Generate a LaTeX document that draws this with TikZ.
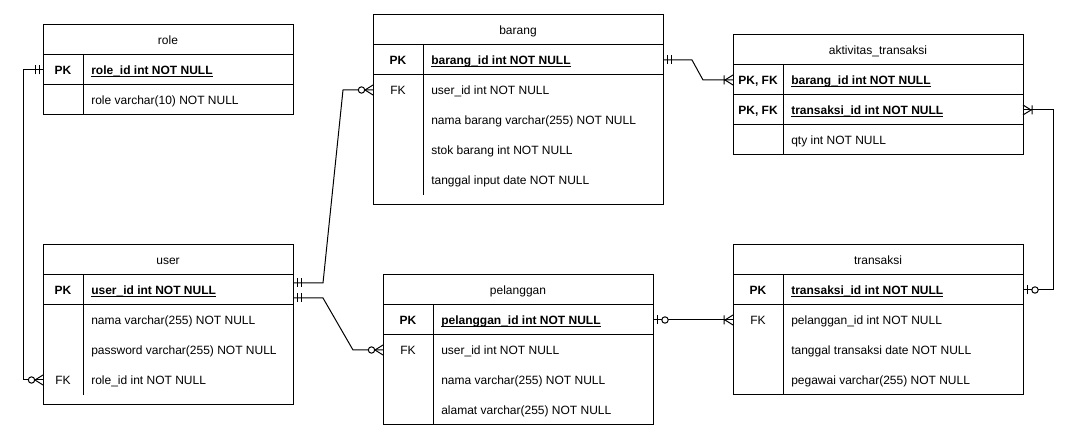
\documentclass[tikz,border=0pt]{standalone}
\usepackage{fontspec}
\setmainfont{Liberation Sans}
\usetikzlibrary{calc,decorations.markings}

\newcommand\ULfld[1]{\setbox0\hbox{#1}\rlap{\rule[-1.7pt]{\wd0}{0.65pt}}\box0}

\newcommand\mkMandOne{\draw[mkline] (4,-4.5) -- (4,4.5) (8,-4.5) -- (8,4.5);}
\newcommand\mkZeroMany{\draw[mkline] (0,-5) -- (8,0) -- (0,5); \draw[mkline,fill=white] (11.5,0) circle[radius=3.2];}
\newcommand\mkOneMany{\draw[mkline] (0,-5) -- (8,0) -- (0,5) (9,-4.5) -- (9,4.5);}
\newcommand\mkZeroOne{\draw[mkline] (4,-4.5) -- (4,4.5); \draw[mkline,fill=white] (12,0) circle[radius=3.2];}

\tikzset{
  tblline/.style={line width=0.75pt, draw=black},
  mkline/.style={line width=0.75pt, draw=black},
  conn/.style={line width=0.75pt, draw=black},
  tblbox/.style={draw=black, line width=0.75pt, rectangle, inner sep=0pt, outer sep=0pt, anchor=north west},
  rowbox/.style={rectangle, inner sep=0pt, outer sep=0pt, minimum height=22.5pt, anchor=north west},
  titletxt/.style={inner sep=0pt, anchor=base},
  keytxt/.style={inner sep=0pt, anchor=base},
  fldtxt/.style={inner sep=0pt, anchor=base west},
  srcMandOne/.style={postaction={decorate,decoration={markings,mark=at position 0 with {\mkMandOne}}}},
  srcOneMany/.style={postaction={decorate,decoration={markings,mark=at position 0 with {\mkOneMany}}}},
  srcZeroOne/.style={postaction={decorate,decoration={markings,mark=at position 0 with {\mkZeroOne}}}},
  dstZeroMany/.style={postaction={decorate,decoration={markings,mark=at position 1 with {\begin{scope}[xscale=-1]\mkZeroMany\end{scope}}}}},
  dstOneMany/.style={postaction={decorate,decoration={markings,mark=at position 1 with {\begin{scope}[xscale=-1]\mkOneMany\end{scope}}}}},
  dstZeroOne/.style={postaction={decorate,decoration={markings,mark=at position 1 with {\begin{scope}[xscale=-1]\mkZeroOne\end{scope}}}}},
}

% #1 name, #2 x, #3 y, #4 width px, #5 height px, #6 title
\newcommand\ERtable[6]{%
  \node[tblbox, minimum width=#4*0.75pt, minimum height=#5*0.75pt] (#1) at (#2,#3) {};
  \node[titletxt] (#1-title) at ($(#1.north)+(0,20)$) {#6};
  \draw[tblline] ($(#1.north west)+(0,30)$) -- ($(#1.north east)+(0,30)$);
}
% #1 table, #2 row name, #3 index, #4 key width px, #5 key, #6 field, #7 width px
\newcommand\ERrow[7]{%
  \node[rowbox, minimum width=#7*0.75pt] (#2) at ($(#1.north west)+(0,30+30*#3)$) {};
  \node[keytxt] (#2-k) at ($(#2.west)+(#4/2,5)$) {#5};
  \node[fldtxt] (#2-f) at ($(#2.west)+(#4+8,5)$) {#6};
}

\begin{document}
\begin{tikzpicture}[x=0.75pt,y=-0.75pt,font=\fontsize{9}{11}\selectfont]
\fill[white] (0,0) rectangle (1078,441);
\useasboundingbox (0,0) rectangle (1078,441);

% role
\ERtable{role}{43}{25}{250}{90}{role}
\ERrow{role}{rolePK}{0}{40}{\textbf{PK}}{\textbf{\ULfld{role\_id int NOT NULL}}}{250}
\draw[tblline] (rolePK.south west) -- (rolePK.south east);
\ERrow{role}{roleName}{1}{40}{}{role varchar(10) NOT NULL}{250}
\draw[tblline] ($(role.north west)+(40,30)$) -- ($(role.north west)+(40,90)$);

% user
\ERtable{user}{43}{245}{250}{160}{user}
\ERrow{user}{userPK}{0}{40}{\textbf{PK}}{\textbf{\ULfld{user\_id int NOT NULL}}}{250}
\draw[tblline] (userPK.south west) -- (userPK.south east);
\ERrow{user}{userNama}{1}{40}{}{nama varchar(255) NOT NULL}{250}
\ERrow{user}{userPass}{2}{40}{}{password varchar(255) NOT NULL}{250}
\ERrow{user}{userRole}{3}{40}{FK}{role\_id int NOT NULL}{250}
\draw[tblline] ($(user.north west)+(40,30)$) -- ($(user.north west)+(40,150)$);

% barang
\ERtable{barang}{373}{15}{290}{190}{barang}
\ERrow{barang}{barangPK}{0}{50}{\textbf{PK}}{\textbf{\ULfld{barang\_id int NOT NULL}}}{290}
\draw[tblline] (barangPK.south west) -- (barangPK.south east);
\ERrow{barang}{barangFK}{1}{50}{FK}{user\_id int NOT NULL}{290}
\ERrow{barang}{barangNama}{2}{50}{}{nama barang varchar(255) NOT NULL}{290}
\ERrow{barang}{barangStok}{3}{50}{}{stok barang int NOT NULL}{290}
\ERrow{barang}{barangTgl}{4}{50}{}{tanggal input date NOT NULL}{290}
\draw[tblline] ($(barang.north west)+(50,30)$) -- ($(barang.north west)+(50,180)$);

% aktivitas_transaksi
\ERtable{akt}{733}{35}{290}{120}{aktivitas\_transaksi}
\ERrow{akt}{aktB}{0}{50}{\textbf{PK, FK}}{\textbf{\ULfld{barang\_id int NOT NULL}}}{290}
\draw[tblline] (aktB.south west) -- (aktB.south east);
\ERrow{akt}{aktT}{1}{50}{\textbf{PK, FK}}{\textbf{\ULfld{transaksi\_id int NOT NULL}}}{290}
\draw[tblline] (aktT.south west) -- (aktT.south east);
\ERrow{akt}{aktQty}{2}{50}{}{qty int NOT NULL}{290}
\draw[tblline] ($(akt.north west)+(50,30)$) -- ($(akt.north west)+(50,120)$);

% pelanggan
\ERtable{pel}{383}{275}{270}{150}{pelanggan}
\ERrow{pel}{pelPK}{0}{50}{\textbf{PK}}{\textbf{\ULfld{pelanggan\_id int NOT NULL}}}{270}
\draw[tblline] (pelPK.south west) -- (pelPK.south east);
\ERrow{pel}{pelFK}{1}{50}{FK}{user\_id int NOT NULL}{270}
\ERrow{pel}{pelNama}{2}{50}{}{nama varchar(255) NOT NULL}{270}
\ERrow{pel}{pelAlamat}{3}{50}{}{alamat varchar(255) NOT NULL}{270}
\draw[tblline] ($(pel.north west)+(50,30)$) -- ($(pel.north west)+(50,150)$);

% transaksi
\ERtable{trans}{733}{245}{290}{150}{transaksi}
\ERrow{trans}{transPK}{0}{50}{\textbf{PK}}{\textbf{\ULfld{transaksi\_id int NOT NULL}}}{290}
\draw[tblline] (transPK.south west) -- (transPK.south east);
\ERrow{trans}{transFK}{1}{50}{FK}{pelanggan\_id int NOT NULL}{290}
\ERrow{trans}{transTgl}{2}{50}{}{tanggal transaksi date NOT NULL}{290}
\ERrow{trans}{transPeg}{3}{50}{}{pegawai varchar(255) NOT NULL}{290}
\draw[tblline] ($(trans.north west)+(50,30)$) -- ($(trans.north west)+(50,150)$);

% connectors
\draw[conn, srcMandOne, dstZeroMany] (rolePK.west) -- ++(-20,0) |- (userRole.west);
\draw[conn, srcMandOne, dstZeroMany] ($(userPK.east)+(0,-7)$) -- ++(30,0) -- ($(barangFK.west)+(-30,0)$) -- (barangFK.west);
\draw[conn, srcMandOne, dstZeroMany] ($(userPK.east)+(0,8)$) -- ++(30,0) -- ($(pelFK.west)+(-30,0)$) -- (pelFK.west);
\draw[conn, srcMandOne, dstOneMany] (barangPK.east) -- ++(29,0) -- ($(aktB.west)+(-30,0)$) -- (aktB.west);
\draw[conn, srcOneMany, dstZeroOne] (aktT.east) -- ++(30,0) |- (transPK.east);
\draw[conn, srcZeroOne, dstOneMany] (pelPK.east) -- (transFK.west);
\end{tikzpicture}
\end{document}
